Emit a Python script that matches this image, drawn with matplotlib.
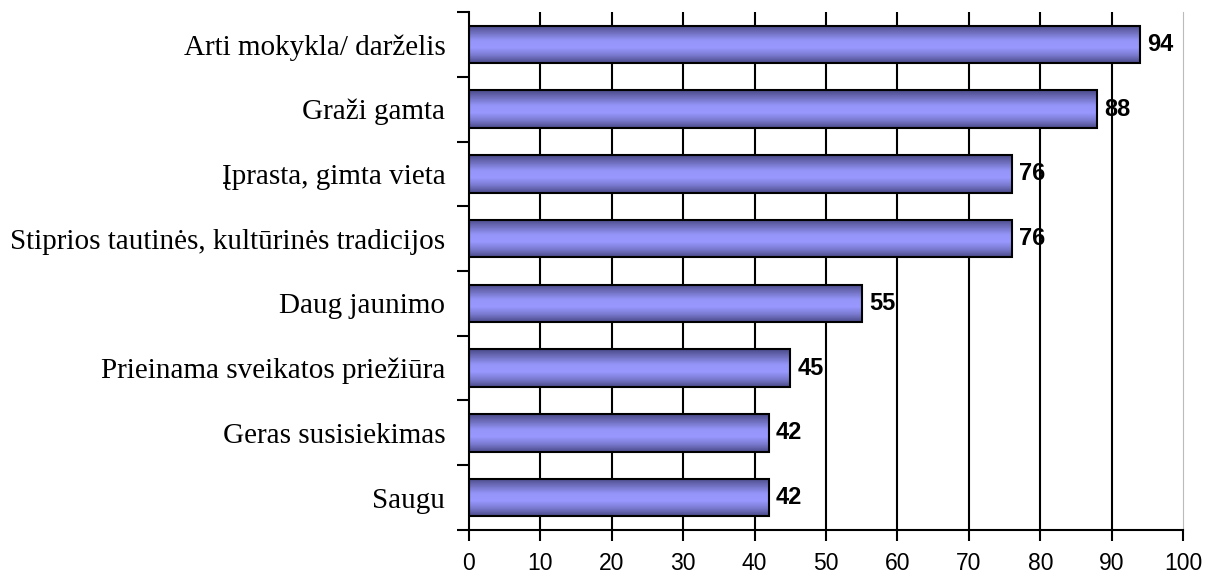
import numpy as np
import matplotlib.pyplot as plt
from matplotlib.colors import LinearSegmentedColormap

# Duomenys
categories = [
    'Arti mokykla/ darželis',
    'Graži gamta',
    'Įprasta, gimta vieta',
    'Stiprios tautinės, kultūrinės tradicijos',
    'Daug jaunimo',
    'Prieinama sveikatos priežiūra',
    'Geras susisiekimas',
    'Saugu',
]
values = [94, 88, 76, 76, 55, 45, 42, 42]
x_ticks = [0, 10, 20, 30, 40, 50, 60, 70, 80, 90, 100]

fig = plt.figure(figsize=(12.21, 5.76), dpi=100)
ax = fig.add_axes([0.384, 0.080, 0.585, 0.899])

n = len(categories)
y = np.arange(n)
bar_h = 0.58

# vertikalios tinklelio linijos
for t in x_ticks[1:-1]:
    ax.axvline(t, color='black', linewidth=1.5, zorder=0)

# gradientas: tamsu kraštuose, šviesu viduryje
cmap = LinearSegmentedColormap.from_list(
    'bar', ['#4b4b8a', '#7a7ad0', '#9898ff', '#9494f8', '#7070c0', '#4b4b8a'])
grad = np.linspace(0, 1, 64).reshape(-1, 1)

bars = ax.barh(y, values, height=bar_h, color='none', edgecolor='black',
               linewidth=1.5, zorder=3)
for b in bars:
    x0, y0 = b.get_x(), b.get_y()
    w, h = b.get_width(), b.get_height()
    im = ax.imshow(grad, cmap=cmap, aspect='auto',
                   extent=[x0, x0 + w, y0, y0 + h], origin='upper', zorder=2)
    im.set_clip_path(b)

for yi, v in zip(y, values):
    ax.text(v + 1.0, yi, str(v), va='center', ha='left', fontsize=17,
            fontweight='bold', family='Liberation Sans', zorder=4)

ax.set_xlim(0, 100)
ax.set_ylim(n - 0.5, -0.5)
ax.set_xticks(x_ticks)
ax.set_xticklabels([str(t) for t in x_ticks], family='Liberation Sans', fontsize=16.5)

# kategorijų etiketės ir žymės tarp kategorijų
ax.set_yticks(np.arange(-0.5, n, 1.0))
ax.set_yticklabels([])
ax.set_yticks(y, minor=True)
ax.set_yticklabels(categories, minor=True, family='Liberation Serif', fontsize=21)
ax.tick_params(axis='y', which='minor', length=0, pad=17)
ax.tick_params(axis='y', which='major', length=9, width=1.5, direction='out')
ax.tick_params(axis='x', length=8, width=1.5, direction='out', pad=8)

ax.spines['top'].set_visible(False)
ax.spines['right'].set_color('#bbbbbb')
ax.spines['left'].set_linewidth(1.5)
ax.spines['bottom'].set_linewidth(1.5)

plt.savefig('out.png', dpi=100)
